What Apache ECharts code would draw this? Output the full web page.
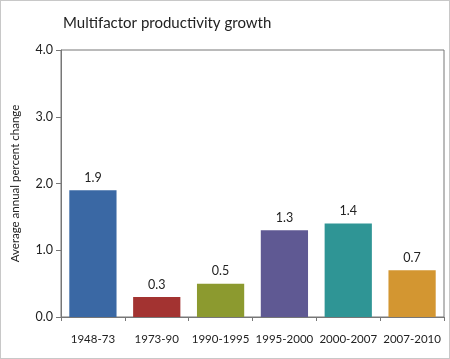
<!DOCTYPE html>
<html><head><meta charset="utf-8">
<script src="https://cdn.jsdelivr.net/npm/echarts@6/dist/echarts.min.js"></script>
<style>html,body{margin:0;padding:0;background:#fff}#c{width:450px;height:359px;box-sizing:border-box;border:1px solid #c8c8c8}</style>
</head><body><div id="c"></div>
<script>
const categories = ['1948-73','1973-90','1990-1995','1995-2000','2000-2007','2007-2010'];
const values = [1.9, 0.3, 0.5, 1.3, 1.4, 0.7];
const barColors = ['#3a68a4','#a33331','#8c9a2f','#5f5993','#2f9595','#d39631'];
const font = 'Lato, "Open Sans", sans-serif';
const chart = echarts.init(document.getElementById('c'));
chart.setOption({
  animation:false,
  title:{text:'Multifactor productivity growth',left:57,top:10,textStyle:{fontFamily:font,fontSize:15,fontWeight:'normal',color:'#222'}},
  grid:{left:57,right:5,top:49,bottom:41,show:true,borderColor:'#777',borderWidth:1},
  xAxis:{type:'category',data:categories,
    axisLine:{lineStyle:{color:'#777'}},
    axisTick:{show:true,length:4,lineStyle:{color:'#777'}},
    axisLabel:{interval:0,fontFamily:font,fontSize:11.5,color:'#222',margin:16}},
  yAxis:{type:'value',min:0,max:4,interval:1,
    name:'Average annual percent change',nameLocation:'middle',nameGap:40,
    nameTextStyle:{fontFamily:font,fontSize:11.5,color:'#222'},
    axisLine:{show:true,lineStyle:{color:'#777'}},
    axisTick:{show:true,length:5,lineStyle:{color:'#777'}},
    splitLine:{show:false},
    axisLabel:{fontFamily:font,fontSize:12.5,color:'#222',formatter:v=>v.toFixed(1)}},
  series:[{type:'bar',data:values.map((v,i)=>({value:v,itemStyle:{color:barColors[i]}})),
    barWidth:'74%',
    label:{show:true,position:'top',distance:6,fontFamily:font,fontSize:12.5,color:'#222',formatter:p=>p.value.toFixed(1)}}]
});
</script></body></html>
